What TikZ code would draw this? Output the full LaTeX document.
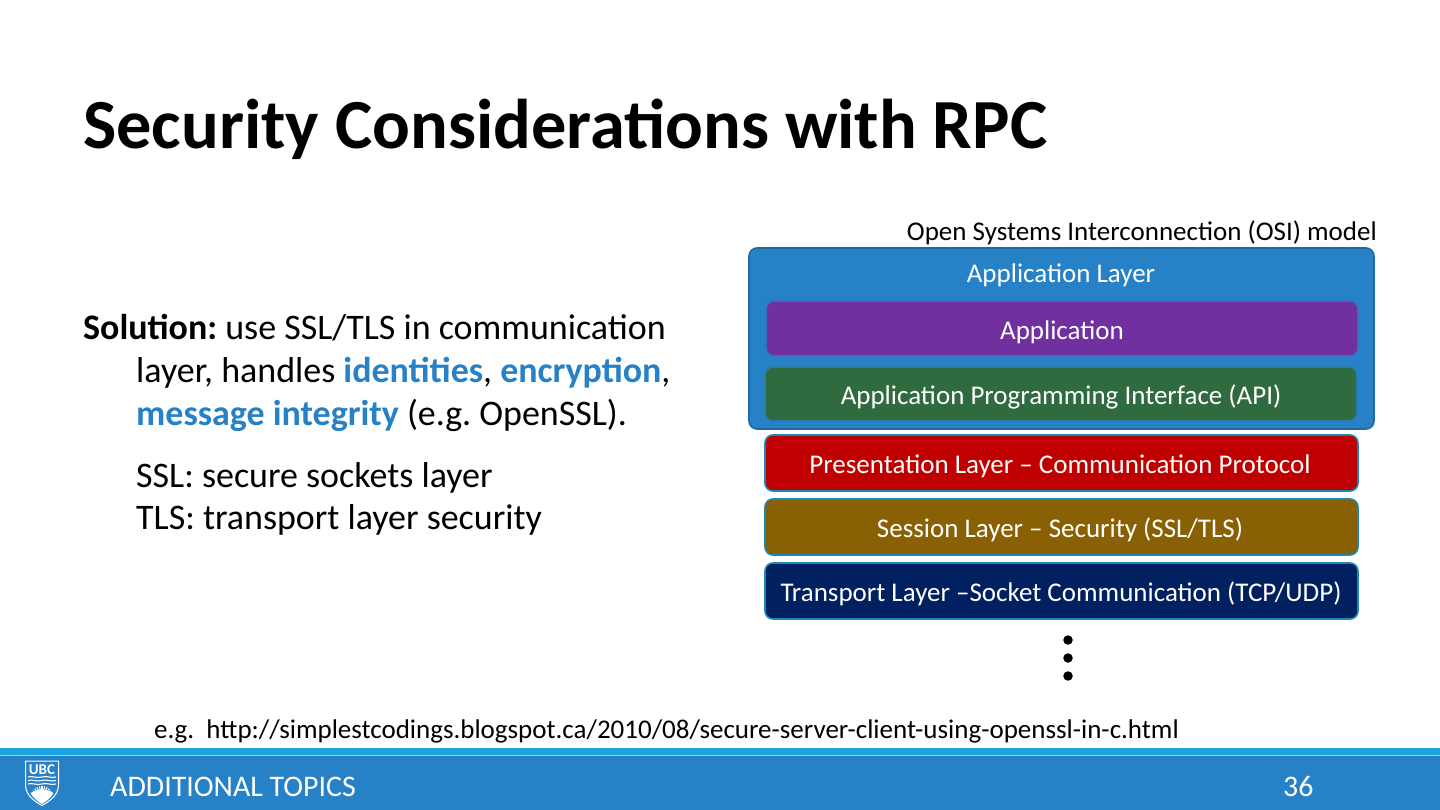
\documentclass[tikz,border=0pt]{standalone}
\usepackage{fontspec}
\setmainfont{Carlito}
\definecolor{ubcblue}{HTML}{2681C6}
\definecolor{ubcedge}{HTML}{1F6AA5}
\definecolor{topbar}{HTML}{1CA6E0}
\definecolor{boxedge}{HTML}{1B87B5}
\definecolor{purplebox}{HTML}{7030A0}
\definecolor{greenbox}{HTML}{2F6B3F}
\definecolor{redbox}{HTML}{C00000}
\definecolor{brownbox}{HTML}{8A6005}
\definecolor{navybox}{HTML}{002060}
\newcommand{\fsz}[1]{\fontsize{#1}{#1}\selectfont}
\tikzset{
  x=1pt,y=-1pt,
  layerbox/.style={rounded corners=8pt,line width=1.6pt,draw=boxedge},
  boxlabel/.style={text=white,font=\fsz{27},inner sep=0pt,anchor=base},
  plain/.style={inner sep=0pt,anchor=base west},
  body/.style={plain,font=\fsz{35.95}},
  dotmark/.style={fill=black,circle,inner sep=0pt,minimum size=9.5pt}
}
\begin{document}
\frenchspacing
\begin{tikzpicture}
\useasboundingbox (0,0) rectangle (1440,810);
\fill[white] (0,0) rectangle (1440,810);
% title
\node[plain,font=\fsz{70.4}\bfseries] (title) at (83,149) {Security Considerations with RPC};
% body
\node[body] (b1) at (83,339) {\textbf{Solution:} use SSL/TLS in communication};
\node[body] (b2) at (136,382) {layer, handles \textcolor{ubcblue}{\textbf{identities}}, \textcolor{ubcblue}{\textbf{encryption}},};
\node[body] (b3) at (136,425) {\textcolor{ubcblue}{\textbf{message integrity}} (e.g. OpenSSL).};
\node[body] (b4) at (136,487) {SSL: secure sockets layer};
\node[body] (b5) at (136,529) {TLS: transport layer security};
% OSI
\node[plain,font=\fsz{27},anchor=base east] (osi) at (1377,241) {Open Systems Interconnection (OSI) model};
\path[layerbox,fill=ubcblue,draw=ubcedge] (749,248) rectangle (1374,429);
\node[boxlabel] (al) at (1061,283) {Application Layer};
\path[layerbox,fill=purplebox,draw=ubcblue!80!purplebox] (766,301) rectangle (1358,356);
\node[boxlabel] (app) at (1062,339) {Application};
\path[layerbox,fill=greenbox,draw=ubcblue!80!greenbox] (765,367) rectangle (1357,421);
\node[boxlabel] (api) at (1061,404) {Application Programming Interface (API)};
\path[layerbox,fill=redbox] (765,435) rectangle (1358,491);
\node[boxlabel] (pres) at (1060,473) {Presentation Layer – Communication Protocol};
\path[layerbox,fill=brownbox] (765,499) rectangle (1358,555);
\node[boxlabel] (sess) at (1060,537) {Session Layer – Security (SSL/TLS)};
\path[layerbox,fill=navybox] (765,563) rectangle (1358,619);
\node[boxlabel] (trans) at (1061,601) {Transport Layer –Socket Communication (TCP/UDP)};
% dots
\node[dotmark] (d1) at (1068,640) {};
\node[dotmark] (d2) at (1068,658) {};
\node[dotmark] (d3) at (1068,676) {};
% link
\node[plain,font=\fsz{27}] (link) at (154,738) {e.g.\ \ http://simplestcodings.blogspot.ca/2010/08/secure-server-client-using-openssl-in-c.html};
% footer
\fill[ubcblue] (0,748) rectangle (1440,810);
\fill[topbar] (0,748) rectangle (1440,755);
\draw[white!60!ubcblue,line width=0.8pt] (0,755.5) -- (1440,755.5);
\node[plain,text=white,font=\fsz{29.9}] (foot) at (110,796.5) {ADDITIONAL TOPICS};
\node[plain,text=white,font=\fsz{29.9}] (num) at (1283,796.5) {36};
% crest
\path[fill=ubcblue,draw=white,line width=1pt] (25.5,761) -- (58.5,761) -- (58.5,785) .. controls (58.5,796) and (48,802) .. (42,805.5) .. controls (36,802) and (25.5,796) .. (25.5,785) -- cycle;
\node[text=white,font=\fsz{15}\bfseries,inner sep=0pt] (ubc) at (42,770) {UBC};
\foreach \yy in {777,780.5,784}{
  \draw[white,line width=1.1pt] (28,\yy) .. controls (32,\yy-1.5) and (36,\yy+1.5) .. (42,\yy) .. controls (47,\yy-1.5) and (51,\yy+1.5) .. (56,\yy);
}
\fill[white] (30.5,793) .. controls (33,798) and (38,801.5) .. (42,804) .. controls (46,801.5) and (51,798) .. (53.5,793) .. controls (50,791) and (46,790) .. (42,790) .. controls (38,790) and (34,791) .. (30.5,793) -- cycle;
\foreach \a in {-70,-56,-42,-28,-14,0,14,28,42,56,70}{
  \draw[white,line width=1.1pt] (42,797) -- ++({\a-90}:{11}) ;
}
\end{tikzpicture}
\end{document}
